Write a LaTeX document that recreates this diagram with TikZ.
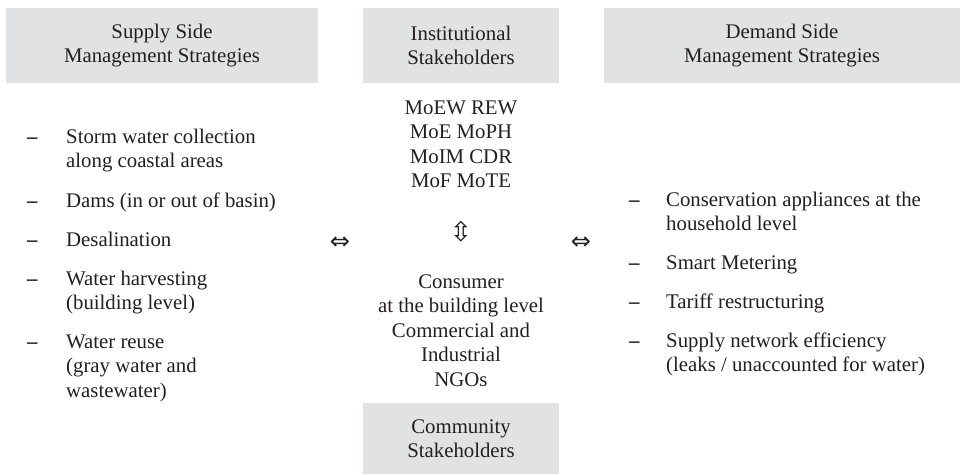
\documentclass[tikz,border=0pt]{standalone}
\usepackage{fontspec}
\setmainfont{Liberation Serif}
\newfontfamily\symfont{DejaVu Sans}
\definecolor{ink}{HTML}{231F20}
\definecolor{panel}{HTML}{E1E2E4}
\begin{document}
\begin{tikzpicture}[x=1pt,y=-1pt,
  every node/.style={text=ink,font=\fontsize{20.8}{24.5}\selectfont,inner sep=0pt},
  headbox/.style={fill=panel,draw=none,align=center,minimum height=75pt},
  itemtext/.style={anchor=north west,align=left},
  itemdash/.style={anchor=base west,font=\bfseries\fontsize{20.8}{24.5}\selectfont},
  blocktext/.style={anchor=north,align=center},
  linkmark/.style={font=\symfont\fontsize{24}{24}\selectfont},
  vlinkmark/.style={font=\symfont\fontsize{27}{27}\selectfont}]
\useasboundingbox (0,0) rectangle (960,474);

% column headings
\node[headbox,minimum width=312pt] (supply) at (162,45.5) {Supply Side\\Management Strategies};
\node[headbox,minimum width=196pt] (inst) at (461,45.5) {Institutional\\Stakeholders};
\node[headbox,minimum width=356pt] (demand) at (782,45.5) {Demand Side\\Management Strategies};
\node[headbox,minimum width=196pt,minimum height=71pt] (comm) at (461,438.5) {Community\\Stakeholders};

% supply side strategies
\node[itemdash] (sd1) at (27,143) {–};
\node[itemtext] (s1) at (66,125.85) {\strut Storm water collection\\along coastal areas};
\node[itemdash] (sd2) at (27,207) {–};
\node[itemtext] (s2) at (66,189.85) {\strut Dams (in or out of basin)};
\node[itemdash] (sd3) at (27,246) {–};
\node[itemtext] (s3) at (66,228.85) {\strut Desalination};
\node[itemdash] (sd4) at (27,285) {–};
\node[itemtext] (s4) at (66,267.85) {\strut Water harvesting\\(building level)};
\node[itemdash] (sd5) at (27,348) {–};
\node[itemtext] (s5) at (66,330.85) {\strut Water reuse\\(gray water and\\wastewater)};

% stakeholders
\node[blocktext] (instlist) at (461,96.85) {\strut MoEW REW\\MoE MoPH\\MoIM CDR\\MoF MoTE};
\node[blocktext] (commlist) at (461,270.85) {\strut Consumer\\at the building level\\Commercial and\\Industrial\\NGOs};

% demand side strategies
\node[itemdash] (dd1) at (629,206) {–};
\node[itemtext] (d1) at (666,188.85) {\strut Conservation appliances at the\\household level};
\node[itemdash] (dd2) at (629,269) {–};
\node[itemtext] (d2) at (666,251.85) {\strut Smart Metering};
\node[itemdash] (dd3) at (629,308) {–};
\node[itemtext] (d3) at (666,290.85) {\strut Tariff restructuring};
\node[itemdash] (dd4) at (629,347) {–};
\node[itemtext] (d4) at (666,329.85) {\strut Supply network efficiency\\(leaks / unaccounted for water)};

% links between the columns
\node[linkmark] (linkL) at (340,243) {⇔};
\node[linkmark] (linkR) at (581,243) {⇔};
\node[vlinkmark] (linkV) at (461,232) {⇳};
\end{tikzpicture}
\end{document}
